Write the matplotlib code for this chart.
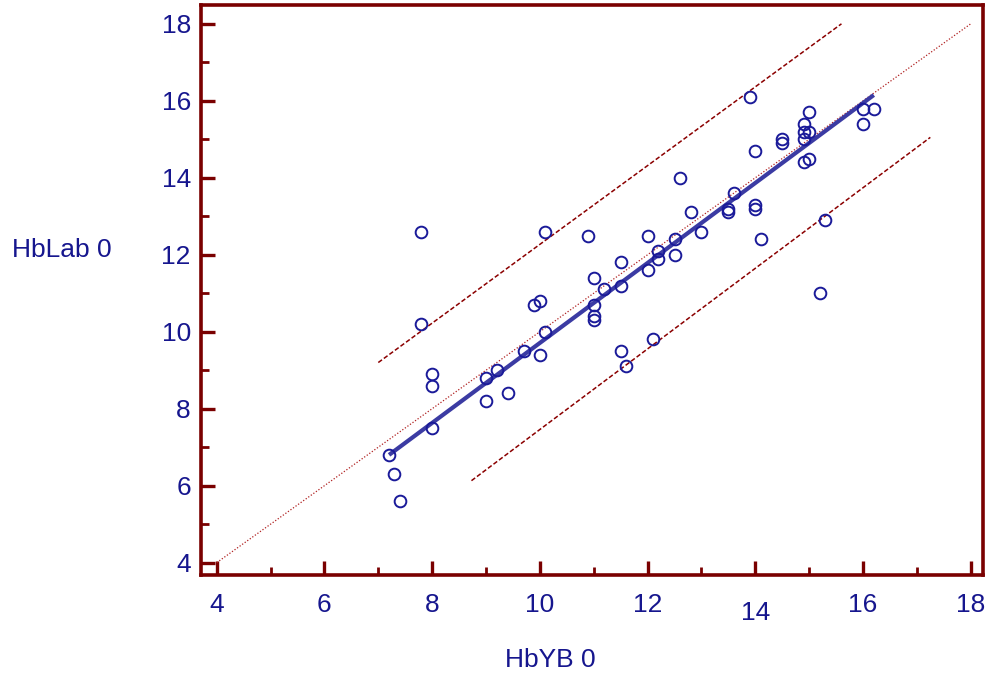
import matplotlib
matplotlib.use("Agg")
import matplotlib.pyplot as plt
import matplotlib.transforms as mtransforms

plt.rcParams['font.family'] = ['Liberation Sans', 'DejaVu Sans']

hb_yb = [7.2, 7.3, 7.4, 7.8, 7.8, 8.0, 8.0, 8.0, 9.0, 9.0,
         9.2, 9.4, 9.7, 9.9, 10.0, 10.0, 10.1, 10.1, 10.9, 11.0,
         11.0, 11.0, 11.0, 11.2, 11.5, 11.5, 11.5, 11.6, 12.0, 12.0,
         12.1, 12.2, 12.2, 12.5, 12.5, 12.6, 12.8, 13.0, 13.5, 13.5,
         13.6, 13.9, 14.0, 14.0, 14.0, 14.1, 14.5, 14.5, 14.9, 14.9,
         14.9, 14.9, 15.0, 15.0, 15.0, 15.2, 15.3, 16.0, 16.0, 16.2]
hb_lab = [6.8, 6.3, 5.6, 12.6, 10.2, 8.9, 8.6, 7.5, 8.8, 8.2,
          9.0, 8.4, 9.5, 10.7, 10.8, 9.4, 12.6, 10.0, 12.5, 11.4,
          10.7, 10.4, 10.3, 11.1, 11.8, 11.2, 9.5, 9.1, 12.5, 11.6,
          9.8, 12.1, 11.9, 12.4, 12.0, 14.0, 13.1, 12.6, 13.2, 13.1,
          13.6, 16.1, 14.7, 13.3, 13.2, 12.4, 15.0, 14.9, 15.4, 15.2,
          15.0, 14.4, 15.7, 15.2, 14.5, 11.0, 12.9, 15.8, 15.4, 15.8]

# fitted line and its limits (end points as drawn)
fit_x = [7.2, 16.2]
fit_y = [6.8, 16.15]
upper_x = [7.0, 15.6]
upper_y = [9.2, 18.0]
lower_x = [8.73, 17.25]
lower_y = [6.13, 15.05]
identity = [4, 18]

ticks = [4, 6, 8, 10, 12, 14, 16, 18]

axis_red = '#7a0000'
navy = '#16168e'

fig = plt.figure(figsize=(9.88, 6.81), dpi=100)
ax = fig.add_axes([0.2030, 0.1557, 0.7915, 0.8370])

ax.plot(identity, identity, color='#b02020', lw=0.9, ls=(0, (1, 1.5)))
ax.plot(upper_x, upper_y, color='#8b0000', lw=1.1, ls=(0, (3, 1.5)))
ax.plot(lower_x, lower_y, color='#8b0000', lw=1.1, ls=(0, (3, 1.5)))
ax.plot(fit_x, fit_y, color='#3b3ba3', lw=3.0, solid_capstyle='butt')
ax.plot(hb_yb, hb_lab, 'o', ms=8.4, mfc='none', mec='#1a1a99', mew=1.4)

ax.set_xlim(3.70, 18.22)
ax.set_ylim(3.68, 18.49)

for s in ax.spines.values():
    s.set_color(axis_red)
    s.set_linewidth(2.6)

ax.set_xticks(ticks)
ax.set_yticks(ticks)
ax.set_xticks(range(5, 18, 2), minor=True)
ax.set_yticks(range(5, 18, 2), minor=True)
ax.tick_params(which='major', direction='in', length=10, width=2.4,
               color=axis_red, labelcolor=navy, labelsize=19)
ax.tick_params(which='minor', direction='in', length=6, width=2.0,
               color=axis_red)
ax.tick_params(axis='x', which='major', pad=13)
ax.tick_params(axis='y', which='major', pad=7)

# the "14" label sits a bit lower in the original
for lab in ax.get_xticklabels():
    if lab.get_text() == '14':
        off = mtransforms.ScaledTranslation(0, -6 / 72, fig.dpi_scale_trans)
        lab.set_transform(lab.get_transform() + off)

fig.text(0.0625, 1 - 250 / 681, 'HbLab 0', color=navy, fontsize=19,
         ha='center', va='center')
fig.text(550 / 988, 1 - 660 / 681, 'HbYB 0', color=navy, fontsize=19,
         ha='center', va='center')

fig.savefig('out.png', dpi=100)
